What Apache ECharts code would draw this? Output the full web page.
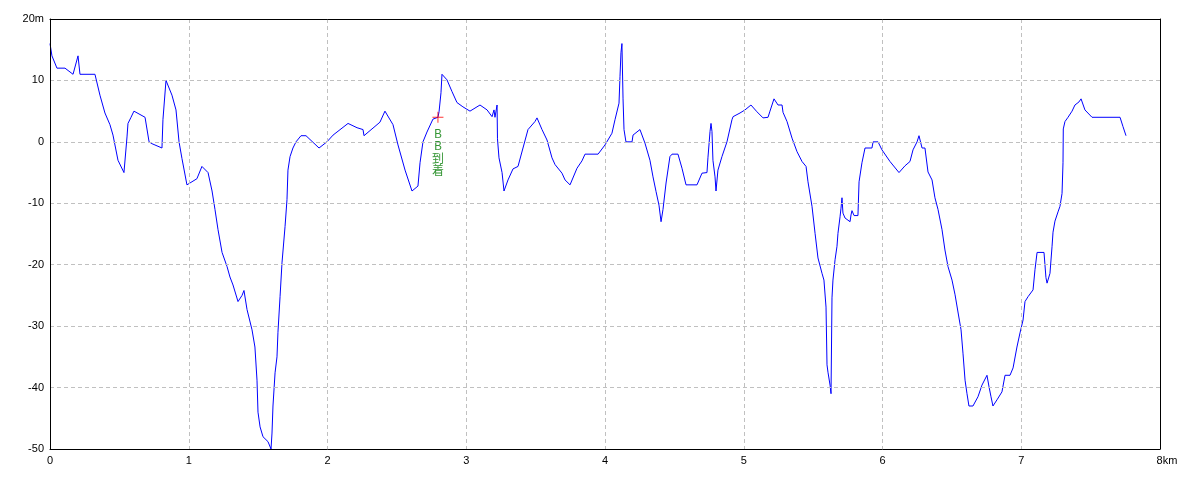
<!DOCTYPE html>
<html>
<head>
<meta charset="utf-8">
<script src="https://cdn.jsdelivr.net/npm/echarts@6/dist/echarts.min.js"></script>
<style>html,body{margin:0;padding:0;background:#fff}#c{width:1200px;height:480px}</style>
</head>
<body>
<div id="c"></div>
<script>
// distance along route (km)
var dist = [0,0.014,0.05,0.108,0.166,0.202,0.216,0.324,0.36,0.396,0.432,0.454,0.49,0.533,0.555,0.562,0.584,0.605,0.685,0.714,0.735,0.807,0.814,0.836,0.879,0.908,0.93,0.951,0.987,1.059,1.095,1.139,1.168,1.189,1.211,1.24,1.276,1.297,1.319,1.355,1.384,1.398,1.42,1.456,1.477,1.492,1.499,1.514,1.535,1.571,1.593,1.6,1.607,1.622,1.636,1.643,1.658,1.672,1.694,1.708,1.715,1.73,1.751,1.773,1.809,1.845,1.939,1.996,2.04,2.148,2.213,2.256,2.263,2.378,2.414,2.472,2.508,2.559,2.609,2.652,2.667,2.688,2.717,2.76,2.796,2.804,2.818,2.825,2.861,2.897,2.933,2.976,3.027,3.099,3.15,3.186,3.2,3.207,3.222,3.225,3.236,3.258,3.272,3.301,3.337,3.373,3.409,3.445,3.495,3.51,3.524,3.546,3.582,3.618,3.64,3.69,3.712,3.748,3.798,3.834,3.856,3.95,4,4.05,4.072,4.101,4.108,4.115,4.122,4.13,4.137,4.151,4.195,4.202,4.252,4.288,4.324,4.346,4.368,4.382,4.389,4.404,4.418,4.44,4.468,4.483,4.526,4.555,4.584,4.663,4.699,4.735,4.742,4.757,4.764,4.771,4.778,4.793,4.8,4.814,4.843,4.879,4.915,4.923,4.973,5.009,5.052,5.095,5.139,5.175,5.189,5.218,5.247,5.276,5.283,5.312,5.348,5.384,5.42,5.449,5.463,5.492,5.514,5.535,5.564,5.578,5.593,5.6,5.607,5.622,5.629,5.636,5.643,5.658,5.672,5.679,5.694,5.701,5.708,5.715,5.73,5.766,5.773,5.78,5.795,5.823,5.831,5.852,5.874,5.924,5.932,5.968,5.996,6.054,6.119,6.162,6.198,6.22,6.249,6.263,6.285,6.306,6.328,6.357,6.378,6.4,6.429,6.45,6.472,6.501,6.523,6.544,6.566,6.58,6.595,6.609,6.623,6.652,6.688,6.717,6.753,6.768,6.782,6.796,6.825,6.861,6.883,6.919,6.941,6.969,6.991,7.013,7.027,7.049,7.085,7.099,7.114,7.164,7.178,7.186,7.207,7.222,7.229,7.243,7.265,7.279,7.294,7.301,7.303,7.315,7.337,7.366,7.387,7.416,7.431,7.459,7.51,7.712,7.733,7.755];
// relative elevation (m)
var elev = [16,14,12,12,11,14,11,11,7.6,4.7,2.8,1.1,-3,-5,0.8,3,4,5,4,0,-0.3,-1,3.6,10,7.6,5.2,0,-2.7,-7,-6,-4,-5,-8,-11,-14.3,-18,-20.3,-22,-23.3,-26,-25,-24.2,-27.3,-30.6,-33.4,-38.8,-44,-46.4,-48,-48.8,-50,-47.4,-43,-37.6,-35,-31,-25.2,-19.7,-13.8,-9.4,-4.6,-2.4,-1,0,1,1,-1,0,1.1,3,2.3,2,1,3.2,5,2.8,-0.5,-4.6,-8,-7.2,-3.4,0,1.6,3.7,4,4.9,8,11,10.1,8.2,6.4,5.7,5,6,5.2,4.1,5.2,4,6,0.5,-2.6,-5,-8,-6.2,-4.4,-4,-1,2,3.3,3.9,3.7,2,0.3,-2.6,-3.7,-5.1,-6.2,-7,-4.3,-3.1,-2,-2,-0.5,1.4,3.6,6.3,10.6,14.5,16,7,2,0,0,1.1,2,-0.2,-3,-5.7,-8.1,-8,-10.3,-13,-11,-6.7,-2.4,-2,-2,-4.3,-7,-7,-5.1,-5,-2.6,1.7,3,1.7,-3,-5.7,-8,-4.6,-2.4,0,3.6,4.1,4.7,5.2,6,4.9,3.9,4,5,7,6,6,4.8,3.3,0.6,-1.6,-3.2,-4,-6.5,-10.5,-14.9,-18.9,-21.4,-22.5,-26.9,-36.3,-37.5,-39.6,-41,-25.4,-22.5,-19.2,-17,-14.9,-12.2,-10.8,-9.1,-11.6,-12.4,-13,-11.9,-11.2,-12,-12,-6.5,-3.4,-1,-1,0,0,-1.3,-3.2,-5,-3.9,-3.2,-1.3,0,1,-1,-1,-4.9,-6.2,-9.1,-11,-14.3,-17.6,-20.3,-22.5,-24.9,-27.7,-30.6,-34.4,-38.8,-41,-43,-43,-41.5,-39.6,-38,-39.9,-41.5,-43,-42,-40.7,-38,-38,-36.8,-33.4,-31.1,-29,-26,-25.2,-24.1,-20.8,-18,-18,-22.1,-23,-21.4,-17,-14.7,-12.9,-11.4,-10.5,-8.4,-3.4,2.1,3.3,4,5,6,6.5,7,5.2,4,4,2.5,1];
var markDist = [2.796];
var markElev = [4];
var markText = ['BB到着'];
var xTicks = [0,1,2,3,4,5,6,7,8];
var yTicks = [-50,-40,-30,-20,-10,0,10,20];

var lineData = dist.map(function(d,i){return [d, elev[i]];});
var markData = markDist.map(function(d,i){return [d, markElev[i], markText[i]];});

var chart = echarts.init(document.getElementById('c'), null, {renderer:'canvas'});
var labelFont = {color:'#000', fontSize:11, fontFamily:'Liberation Sans'};
var frameAxis = {
  axisLine:{show:true, onZero:false, lineStyle:{color:'#000', width:1}},
  axisTick:{show:false}, axisLabel:{show:false}, splitLine:{show:false}, z:10
};
chart.setOption({
  animation:false,
  backgroundColor:'#fff',
  grid:{left:50, right:40, top:19, bottom:31, show:false, containLabel:false},
  xAxis:[{
    type:'value', min:0, max:8, interval:1, position:'bottom',
    axisLine:{show:true, onZero:false, lineStyle:{color:'#000', width:1}},
    axisTick:{show:false}, z:10,
    splitLine:{show:true, lineStyle:{color:'#c0c0c0', type:[4,3], width:1}},
    axisLabel:Object.assign({margin:6, showMinLabel:true, showMaxLabel:true,
      formatter:function(v){return v===xTicks[xTicks.length-1] ? '{k|'+v+'km}' : String(v);},
      rich:{k:{color:'#000', fontSize:11, fontFamily:'Liberation Sans', padding:[0,0,0,14]}}
    }, labelFont)
  }, Object.assign({type:'value', min:0, max:8, interval:1, position:'top'}, frameAxis)],
  yAxis:[{
    type:'value', min:-50, max:20, interval:10, position:'left',
    axisLine:{show:true, onZero:false, lineStyle:{color:'#000', width:1}},
    axisTick:{show:false}, z:10,
    splitLine:{show:true, lineStyle:{color:'#c0c0c0', type:[4,3], width:1}},
    axisLabel:Object.assign({margin:6, showMinLabel:true, showMaxLabel:true,
      formatter:function(v){return v===yTicks[yTicks.length-1] ? v+'m' : String(v);}
    }, labelFont)
  }, Object.assign({type:'value', min:-50, max:20, interval:10, position:'right'}, frameAxis)],
  series:[
    {type:'line', data:lineData, showSymbol:false, symbol:'none',
     lineStyle:{color:'#0000ff', width:1}, silent:true, z:2},
    {type:'scatter', data:markData, symbol:'path://M0,5h11v1h-11z M5,0h1v11h-1z', symbolSize:11,
     itemStyle:{color:'#ff0000'}, z:3, silent:true,
     label:{show:true, position:'bottom', distance:4, color:'#008000', fontSize:12,
       fontFamily:"'Noto Sans CJK JP'", lineHeight:12,
       formatter:function(p){return p.data[2].split('').map(function(c){return '{t|'+c+'}';}).join('\n');},
       rich:{t:{color:'#007a00', fontSize:12, fontFamily:"'Noto Sans CJK JP'", lineHeight:12.5, align:'center'}}}}
  ]
});
</script>
</body>
</html>
